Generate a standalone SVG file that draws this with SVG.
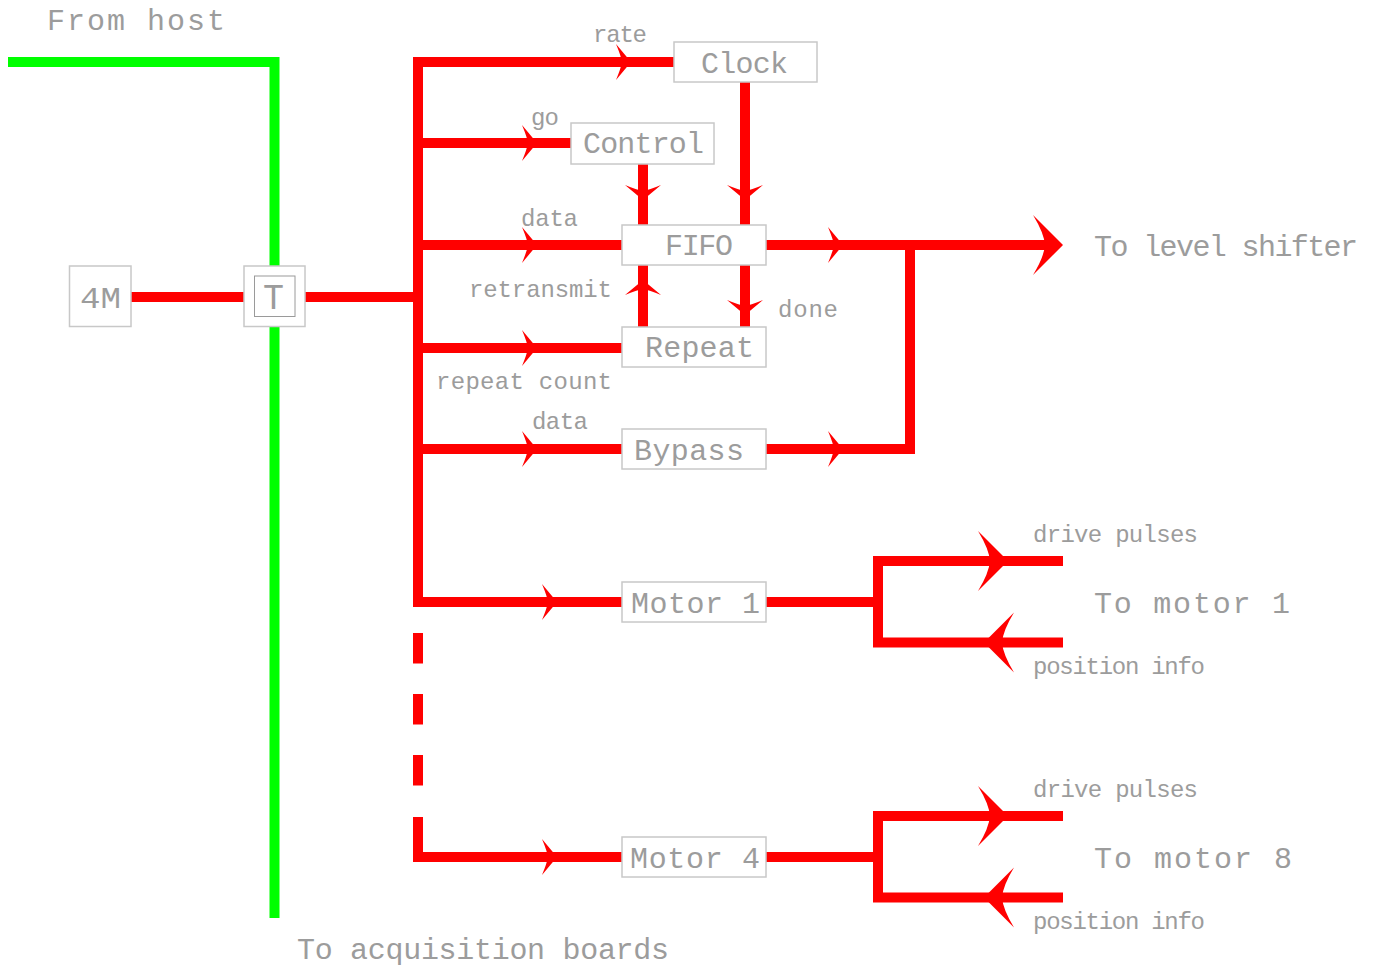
<svg xmlns="http://www.w3.org/2000/svg" xmlns:xlink="http://www.w3.org/1999/xlink" width="1375" height="968" viewBox="0 0 1375 968">
<style>
  .r { fill: none; stroke: #ff0000; stroke-width: 10; stroke-linejoin: miter; stroke-linecap: butt; }
  .g { fill: none; stroke: #00ff00; stroke-width: 10; stroke-linejoin: miter; stroke-linecap: butt; }
  .box { fill: #ffffff; stroke: #c8c8c8; stroke-width: 1.5; }
  .inner { fill: none; stroke: #9a9a9a; stroke-width: 1; }
  .ah { fill: #ff0000; }
  text { font-family: "Liberation Mono", "DejaVu Sans Mono", monospace; fill: #9c9c9c; }
  .big { font-size: 30px; }
  .lbl { font-size: 24px; }
</style>
<defs>
  <path id="as" d="M0,0 L-15,-18 Q-10,-6 -9,0 Q-10,6 -15,18 Z"/>
  <path id="al" d="M0,0 L-30,-30 Q-19,-12 -18,0 Q-19,12 -30,30 Z"/>
</defs>
<rect width="1375" height="968" fill="#ffffff"/>
<g id="connectors">
  <path class="g" d="M8,62 H274.5 V918"/>
  <path class="r" d="M131,297 H244"/>
  <path class="r" d="M305,297 H418"/>
  <path class="r" d="M674,62 H418 V602 H622"/>
  <path class="r" d="M418,143 H571"/>
  <path class="r" d="M418,245 H622"/>
  <path class="r" d="M418,348 H622"/>
  <path class="r" d="M418,449 H622"/>
  <path class="r" d="M418,633 V786" stroke-dasharray="30.5 30.5"/>
  <path class="r" d="M418,817 V857 H622"/>
  <path class="r" d="M643,164 V225"/>
  <path class="r" d="M745,82 V225"/>
  <path class="r" d="M643,265 V327"/>
  <path class="r" d="M745,265 V327"/>
  <path class="r" d="M766,245 H1050"/>
  <path class="r" d="M766,449 H910 V245"/>
  <path class="r" d="M766,602 H878"/>
  <path class="r" d="M1063,561 H878 V642.5 H1063"/>
  <path class="r" d="M766,857 H878"/>
  <path class="r" d="M1063,816 H878 V897.5 H1063"/>
  <g class="ah">
    <use xlink:href="#as" transform="translate(631,62)"/>
    <use xlink:href="#as" transform="translate(537,143)"/>
    <use xlink:href="#as" transform="translate(537,245)"/>
    <use xlink:href="#as" transform="translate(537,348)"/>
    <use xlink:href="#as" transform="translate(537,449)"/>
    <use xlink:href="#as" transform="translate(557,602)"/>
    <use xlink:href="#as" transform="translate(557,857)"/>
    <use xlink:href="#as" transform="translate(843,245)"/>
    <use xlink:href="#as" transform="translate(843,449)"/>
    <use xlink:href="#as" transform="translate(643,200) rotate(90)"/>
    <use xlink:href="#as" transform="translate(745,200) rotate(90)"/>
    <use xlink:href="#as" transform="translate(643,280) rotate(-90)"/>
    <use xlink:href="#as" transform="translate(745,315) rotate(90)"/>
    <use xlink:href="#al" transform="translate(1063,245)"/>
    <use xlink:href="#al" transform="translate(1008,561)"/>
    <use xlink:href="#al" transform="translate(984,642.5) rotate(180)"/>
    <use xlink:href="#al" transform="translate(1008,816)"/>
    <use xlink:href="#al" transform="translate(984,897.5) rotate(180)"/>
  </g>
</g>
<g id="node-4M">
  <rect class="box" x="69.5" y="266" width="61.5" height="60.5"/>
  <text class="big" x="80" y="308" textLength="41" lengthAdjust="spacingAndGlyphs">4M</text>
</g>
<g id="node-T">
  <rect class="box" x="244" y="266" width="61" height="60.5"/>
  <rect class="inner" x="254.5" y="276" width="40.5" height="40.5"/>
  <text x="263" y="309" style="font-size:36px" textLength="21" lengthAdjust="spacingAndGlyphs">T</text>
</g>
<g id="node-clock">
  <rect class="box" x="674" y="42" width="143" height="40"/>
  <text class="big" x="701" y="73" textLength="87">Clock</text>
</g>
<g id="node-control">
  <rect class="box" x="571" y="123" width="143" height="41"/>
  <text class="big" x="583" y="153" textLength="121">Control</text>
</g>
<g id="node-fifo">
  <rect class="box" x="622" y="225" width="144" height="40"/>
  <text class="big" x="665" y="255" textLength="68">FIFO</text>
</g>
<g id="node-repeat">
  <rect class="box" x="622" y="327" width="144" height="40"/>
  <text class="big" x="645" y="357" textLength="109">Repeat</text>
</g>
<g id="node-bypass">
  <rect class="box" x="622" y="429" width="144" height="40"/>
  <text class="big" x="634" y="460" textLength="110">Bypass</text>
</g>
<g id="node-motor1">
  <rect class="box" x="622" y="582" width="144" height="40"/>
  <text class="big" x="631" y="613" textLength="129">Motor 1</text>
</g>
<g id="node-motor4">
  <rect class="box" x="622" y="837" width="144" height="40"/>
  <text class="big" x="630" y="868" textLength="130">Motor 4</text>
</g>
<g id="labels">
  <text class="big" x="47" y="30" textLength="178">From host</text>
  <text class="lbl" x="593" y="42" textLength="54">rate</text>
  <text class="lbl" x="531" y="125" textLength="28">go</text>
  <text class="lbl" x="521" y="226" textLength="57">data</text>
  <text class="lbl" x="469" y="297" textLength="143">retransmit</text>
  <text class="lbl" x="778" y="317" textLength="60">done</text>
  <text class="lbl" x="436" y="389" textLength="176">repeat count</text>
  <text class="lbl" x="532" y="429" textLength="56">data</text>
  <text class="big" x="1094" y="256" textLength="264">To level shifter</text>
  <text class="lbl" x="1033" y="542" textLength="165">drive pulses</text>
  <text class="big" x="1094" y="613" textLength="196">To motor 1</text>
  <text class="lbl" x="1033" y="674" textLength="172">position info</text>
  <text class="lbl" x="1033" y="797" textLength="165">drive pulses</text>
  <text class="big" x="1094" y="868" textLength="198">To motor 8</text>
  <text class="lbl" x="1033" y="929" textLength="172">position info</text>
  <text class="big" x="297" y="959" textLength="372">To acquisition boards</text>
</g>
</svg>
